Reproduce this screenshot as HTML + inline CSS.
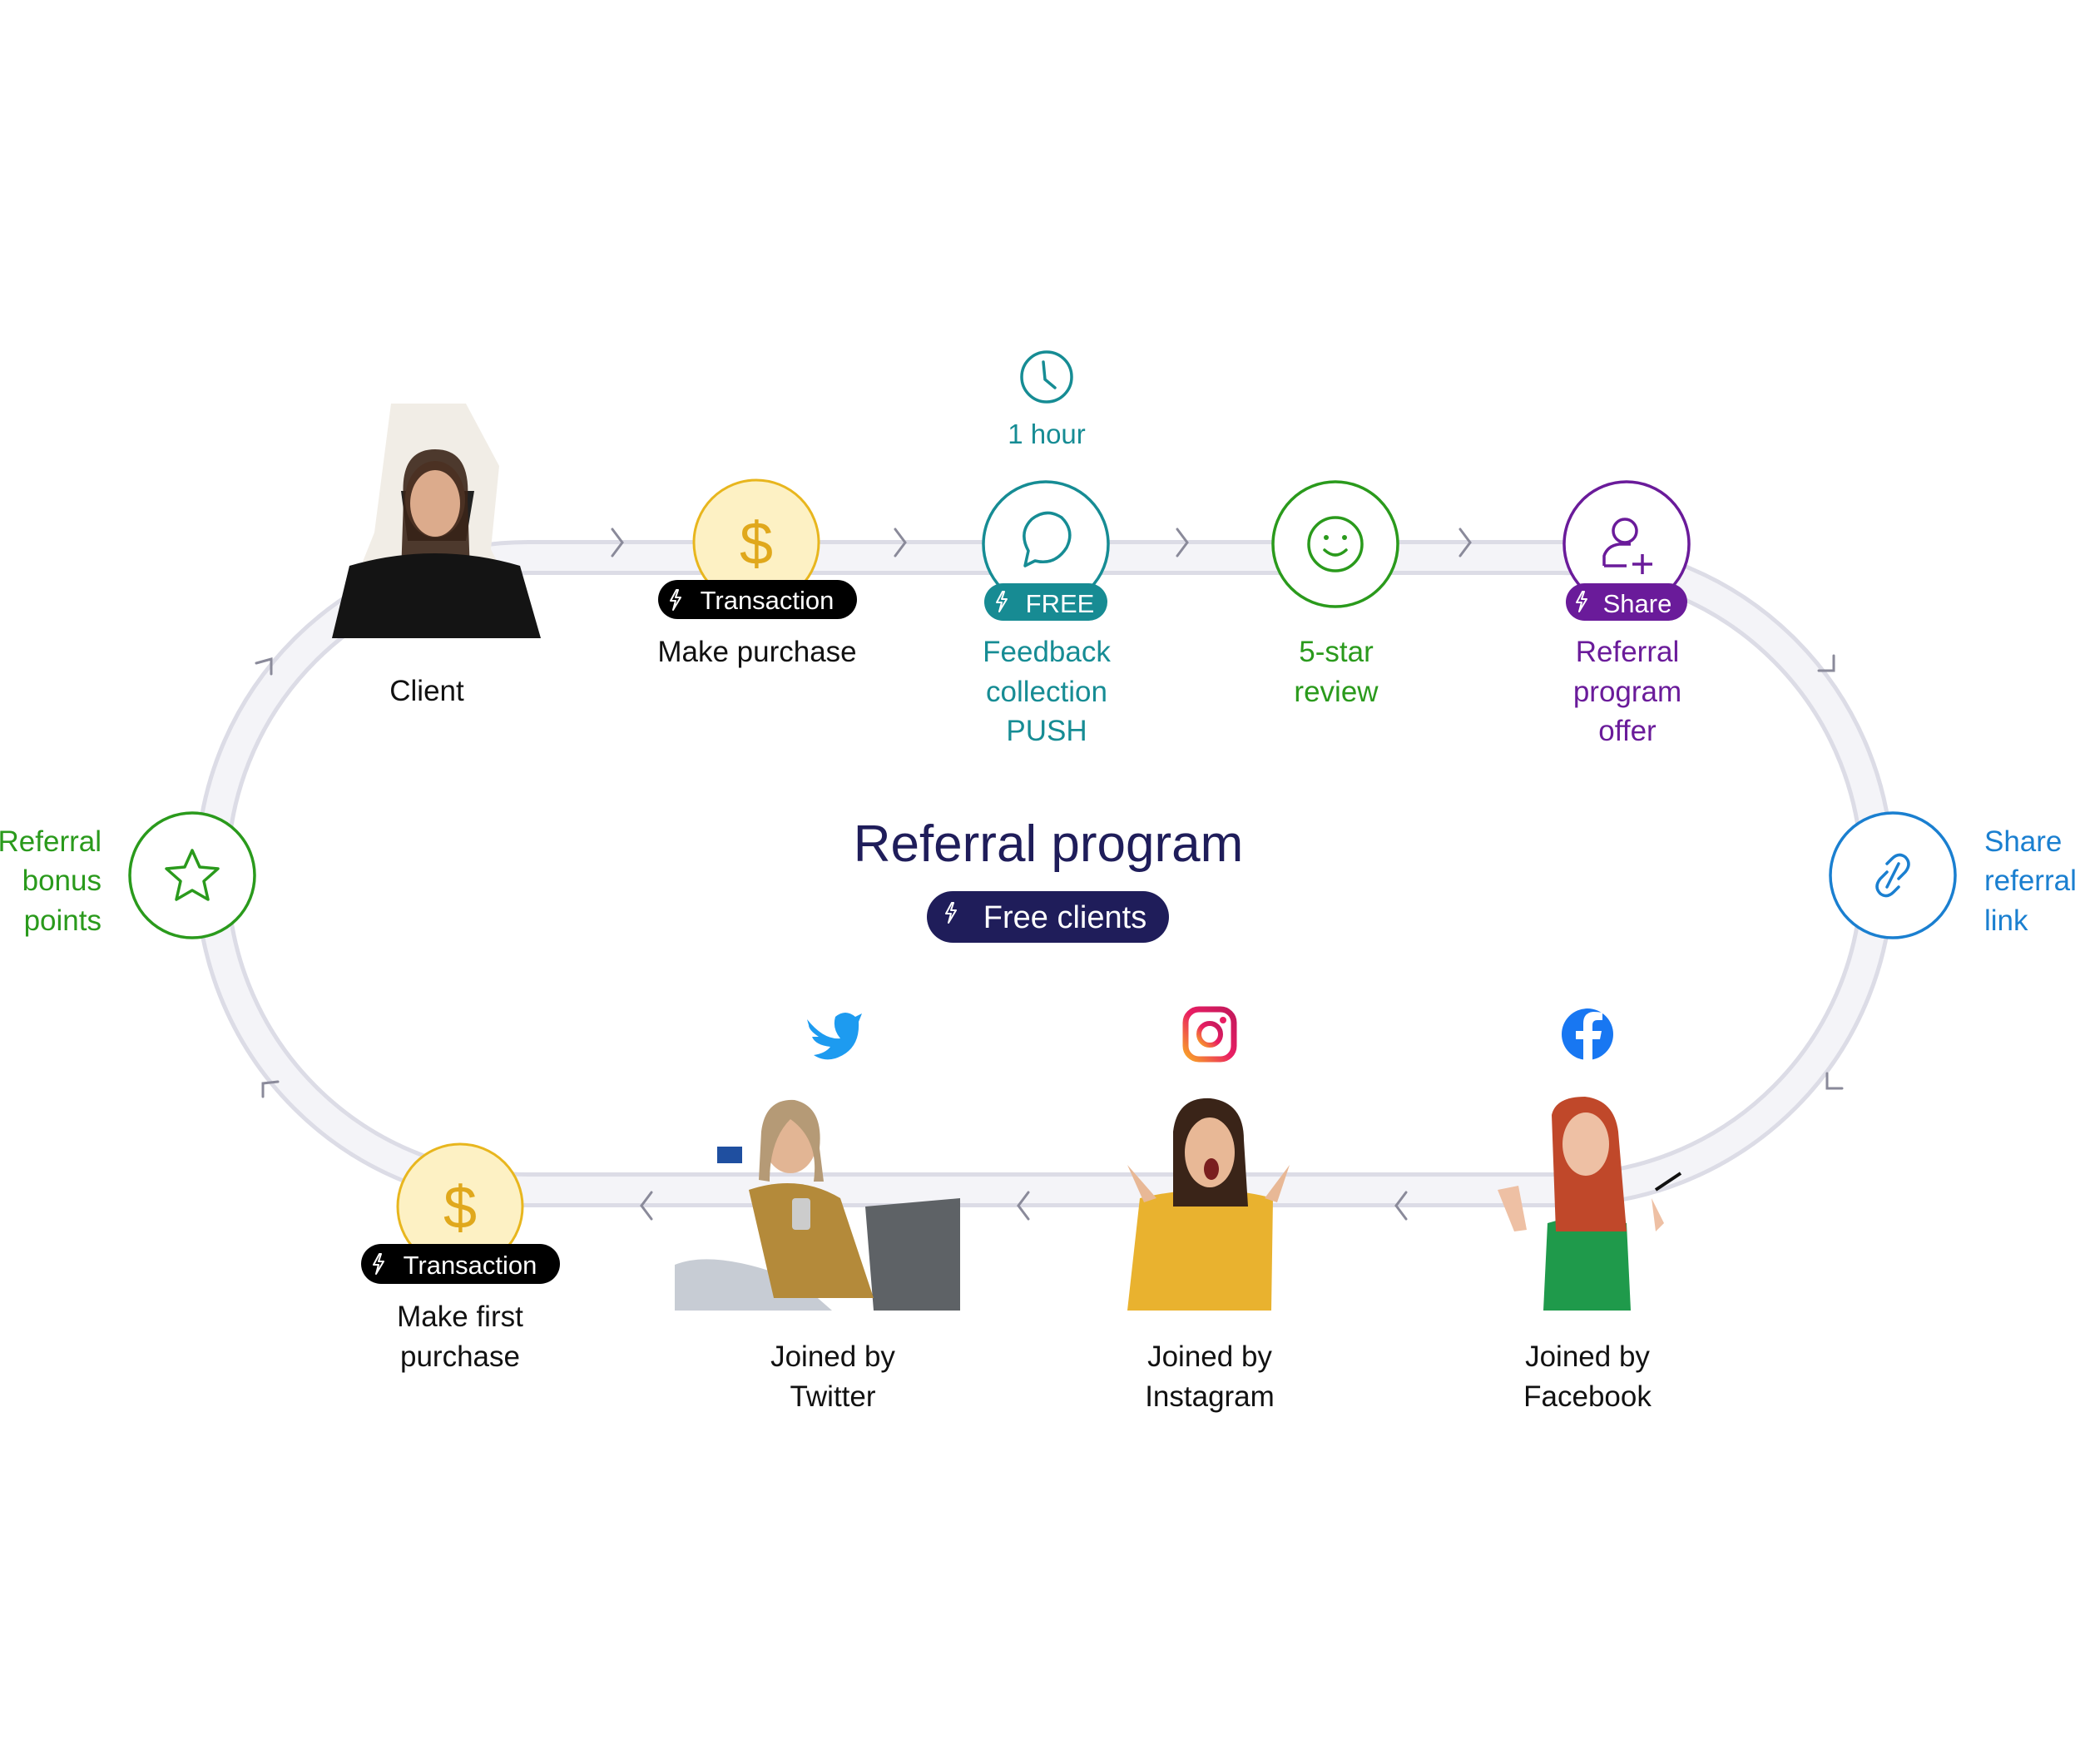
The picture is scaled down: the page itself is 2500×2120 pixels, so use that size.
<!DOCTYPE html>
<html><head><meta charset="utf-8"><style>
html,body{margin:0;padding:0;background:#fff}
svg{display:block}
text{font-family:"Liberation Sans",sans-serif}
</style></head><body>
<svg width="2500" height="2120" viewBox="0 0 2500 2120" xmlns="http://www.w3.org/2000/svg">
<defs>
<linearGradient id="ig" x1="0" y1="1" x2="1" y2="0"><stop offset="0" stop-color="#f9a825"/><stop offset="0.5" stop-color="#e91e63"/><stop offset="1" stop-color="#c2185b"/></linearGradient>
<g id="bolt"><path d="M7 0 L0 13 L6 13 L3 24 L12 9 L6 9 L9 0 Z" fill="none" stroke="#fff" stroke-width="2" stroke-linejoin="round"/></g>
</defs>
<rect x="255" y="670" width="2001" height="760" rx="380" fill="none" stroke="#dcdce6" stroke-width="42"/>
<rect x="255" y="670" width="2001" height="760" rx="380" fill="none" stroke="#f4f4f8" stroke-width="32"/>
<g fill="none" stroke="#8a8a9a" stroke-width="3" stroke-linecap="round">
<path d="M736 636 L748 652 L736 668"/><path d="M1076 636 L1088 652 L1076 668"/>
<path d="M1415 636 L1427 652 L1415 668"/><path d="M1755 636 L1767 652 L1755 668"/>
<path d="M783 1433 L771 1449 L783 1465"/><path d="M1236 1433 L1224 1449 L1236 1465"/>
<path d="M1690 1433 L1678 1449 L1690 1465"/>
<path d="M308 797 L326 792 L326 810"/><path d="M2186 806 L2204 806 L2204 788"/>
<path d="M2196 1290 L2196 1308 L2214 1308"/><path d="M316 1318 L316 1302 L334 1300"/>
</g>
<g>
<path d="M470 485 L560 485 L600 560 L590 660 L610 700 L650 767 L399 767 L430 690 L450 640 Z" fill="#f1ede6"/>
<path d="M482 590 L570 590 L560 650 L490 650 Z" fill="#222"/>
<ellipse cx="523" cy="600" rx="36" ry="46" fill="#d9a585"/>
<path d="M485 600 Q480 540 523 540 Q566 540 562 600 L565 690 L482 690 Z" fill="#3b2518" opacity="0.9"/>
<ellipse cx="523" cy="605" rx="30" ry="40" fill="#dcab8c"/>
<path d="M420 680 Q523 650 625 680 L650 767 L399 767 Z" fill="#141414"/>
</g>
<text x="513" y="842" font-size="35" text-anchor="middle" fill="#111">Client</text>
<circle cx="909" cy="652" r="75" fill="#fdf1c4" stroke="#e8b61e" stroke-width="3"/>
<text x="909" y="678" font-size="72" text-anchor="middle" fill="#e0a81c">$</text>
<rect x="791" y="697" width="239" height="47" rx="23.5" fill="#000"/>
<use href="#bolt" x="806" y="709"/>
<text x="922" y="732" font-size="31" text-anchor="middle" fill="#fff">Transaction</text>
<text x="910" y="795" font-size="35" text-anchor="middle" fill="#111">Make purchase</text>
<circle cx="1258" cy="453" r="30" fill="none" stroke="#168c94" stroke-width="3.5"/>
<path d="M1254 435 L1256 456 L1268 466" fill="none" stroke="#168c94" stroke-width="3.5" stroke-linecap="round"/>
<text x="1258" y="533" font-size="33" text-anchor="middle" fill="#168c94">1 hour</text>
<circle cx="1257" cy="654" r="75" fill="#fff" stroke="#168c94" stroke-width="3.5"/>
<path d="M1232 680 L1236 662 Q1224 640 1240 624 Q1258 610 1276 622 Q1292 638 1282 658 Q1268 680 1244 674 Z" fill="none" stroke="#168c94" stroke-width="3.5" stroke-linejoin="round"/>
<rect x="1183" y="701" width="148" height="45" rx="22.5" fill="#178b93"/>
<use href="#bolt" x="1198" y="711"/>
<text x="1274" y="736" font-size="31" text-anchor="middle" fill="#fff">FREE</text>
<g font-size="35" text-anchor="middle" fill="#168c94"><text x="1258" y="795">Feedback</text><text x="1258" y="843">collection</text><text x="1258" y="890">PUSH</text></g>
<circle cx="1605" cy="654" r="75" fill="#fff" stroke="#2a9a1c" stroke-width="3.5"/>
<circle cx="1605" cy="654" r="32" fill="none" stroke="#2a9a1c" stroke-width="3.5"/>
<circle cx="1594" cy="646" r="3" fill="#2a9a1c"/><circle cx="1616" cy="646" r="3" fill="#2a9a1c"/>
<path d="M1592 661 Q1605 673 1618 661" fill="none" stroke="#2a9a1c" stroke-width="3.5" stroke-linecap="round"/>
<g font-size="35" text-anchor="middle" fill="#2a9a1c"><text x="1606" y="795">5-star</text><text x="1606" y="843">review</text></g>
<circle cx="1955" cy="654" r="75" fill="#fff" stroke="#6a1b9a" stroke-width="3.5"/>
<circle cx="1953" cy="638" r="14" fill="none" stroke="#6a1b9a" stroke-width="3.5"/>
<path d="M1928 680 L1928 668 Q1932 656 1946 654 L1960 654" fill="none" stroke="#6a1b9a" stroke-width="3.5"/>
<path d="M1928 680 L1955 680 M1974 666 L1974 690 M1962 678 L1986 678" fill="none" stroke="#6a1b9a" stroke-width="3.5"/>
<rect x="1882" y="701" width="146" height="45" rx="22.5" fill="#6a1b9a"/>
<use href="#bolt" x="1895" y="711"/>
<text x="1968" y="736" font-size="31" text-anchor="middle" fill="#fff">Share</text>
<g font-size="35" text-anchor="middle" fill="#6a1b9a"><text x="1956" y="795">Referral</text><text x="1956" y="843">program</text><text x="1956" y="890">offer</text></g>
<circle cx="2275" cy="1052" r="75" fill="#fff" stroke="#1a7fd0" stroke-width="3.5"/>
<g fill="none" stroke="#1a7fd0" stroke-width="3.5" stroke-linecap="round">
<path d="M2268 1048 L2260 1056 Q2252 1066 2260 1074 Q2268 1080 2276 1072 L2282 1066"/>
<path d="M2282 1056 L2290 1048 Q2298 1038 2290 1030 Q2282 1024 2274 1032 L2268 1038"/>
<path d="M2268 1066 L2282 1038"/></g>
<g font-size="35" fill="#1a7fd0"><text x="2385" y="1023">Share</text><text x="2385" y="1070">referral</text><text x="2385" y="1118">link</text></g>
<circle cx="231" cy="1052" r="75" fill="#fff" stroke="#2a9a1c" stroke-width="3.5"/>
<path d="M231 1022 L240 1042 L262 1044 L245 1059 L250 1081 L231 1070 L212 1081 L217 1059 L200 1044 L222 1042 Z" fill="none" stroke="#2a9a1c" stroke-width="3.5" stroke-linejoin="round"/>
<g font-size="35" text-anchor="end" fill="#2a9a1c"><text x="122" y="1023">Referral</text><text x="122" y="1070">bonus</text><text x="122" y="1118">points</text></g>
<text x="1260" y="1035" font-size="62" text-anchor="middle" fill="#1f1d5a">Referral program</text>
<rect x="1114" y="1071" width="291" height="62" rx="31" fill="#1f1d5a"/>
<use href="#bolt" x="1142" y="1088" transform="translate(-5,-3)"/>
<text x="1280" y="1115" font-size="38" text-anchor="middle" fill="#fff">Free clients</text>
<circle cx="553" cy="1450" r="75" fill="#fdf1c4" stroke="#e8b61e" stroke-width="3"/>
<text x="553" y="1476" font-size="72" text-anchor="middle" fill="#e0a81c">$</text>
<rect x="434" y="1495" width="239" height="48" rx="24" fill="#000"/>
<use href="#bolt" x="449" y="1507"/>
<text x="565" y="1531" font-size="31" text-anchor="middle" fill="#fff">Transaction</text>
<g font-size="35" text-anchor="middle" fill="#111"><text x="553" y="1594">Make first</text><text x="553" y="1642">purchase</text></g>
<path d="M970 1225 Q990 1250 1010 1248 Q1000 1236 1004 1222 Q1016 1212 1028 1222 L1036 1218 L1032 1228 Q1034 1262 1004 1272 Q990 1276 978 1268 Q992 1266 998 1258 Q980 1256 976 1246 L984 1246 Q972 1238 972 1232 Z" fill="#1d9bf0"/>
<rect x="1425" y="1213" width="58" height="60" rx="16" fill="none" stroke="url(#ig)" stroke-width="7"/>
<circle cx="1454" cy="1243" r="13" fill="none" stroke="url(#ig)" stroke-width="6"/>
<circle cx="1470" cy="1226" r="4" fill="#e91e63"/>
<circle cx="1908" cy="1243" r="31" fill="#1877f2"/>
<path d="M1914 1274 L1914 1249 L1923 1249 L1925 1239 L1914 1239 L1914 1232 Q1914 1226 1920 1226 L1926 1226 L1926 1217 Q1920 1216 1915 1216 Q1903 1217 1903 1230 L1903 1239 L1894 1239 L1894 1249 L1903 1249 L1903 1274 Z" fill="#fff"/>
<g>
<path d="M1040 1450 L1154 1440 L1154 1575 L1050 1575 Z" fill="#5e6266"/>
<path d="M811 1520 Q860 1500 960 1540 L1000 1575 L811 1575 Z" fill="#c7ccd4"/>
<path d="M900 1430 Q960 1410 1010 1440 L1050 1560 L930 1560 Z" fill="#b48a3a"/>
<ellipse cx="950" cy="1370" rx="32" ry="40" fill="#e2b594"/>
<path d="M915 1360 Q920 1320 955 1322 Q990 1330 985 1380 L990 1420 L978 1420 Q985 1370 950 1345 Q925 1370 925 1420 L912 1418 Z" fill="#b59a76"/>
<rect x="862" y="1378" width="30" height="20" fill="#1f4fa0"/>
<rect x="952" y="1440" width="22" height="38" rx="4" fill="#ccc"/>
</g>
<g>
<path d="M1370 1440 Q1454 1420 1530 1440 L1528 1575 L1355 1575 Z" fill="#e9b22f"/>
<path d="M1410 1360 Q1415 1318 1455 1320 Q1495 1325 1495 1370 L1500 1450 L1410 1450 Z" fill="#3a2418"/>
<ellipse cx="1454" cy="1385" rx="30" ry="42" fill="#e8b896"/>
<ellipse cx="1456" cy="1405" rx="9" ry="13" fill="#7a1f1f"/>
<path d="M1355 1400 L1390 1440 L1375 1445 Z M1550 1400 L1520 1440 L1535 1445 Z" fill="#e8b896"/>
</g>
<g>
<path d="M1860 1470 Q1908 1455 1955 1470 L1960 1575 L1855 1575 Z" fill="#1f9a4b"/>
<path d="M1865 1340 Q1870 1318 1905 1318 Q1940 1322 1945 1360 L1955 1480 L1870 1480 Z" fill="#c0482a"/>
<ellipse cx="1906" cy="1375" rx="28" ry="38" fill="#eec0a4"/>
<path d="M1800 1430 L1820 1480 L1835 1478 L1825 1425 Z M1985 1440 L1990 1480 L2000 1470 Z" fill="#eec0a4"/>
<path d="M1990 1430 L2020 1410" stroke="#111" stroke-width="4"/>
</g>
<g font-size="35" text-anchor="middle" fill="#111">
<text x="1001" y="1642">Joined by</text><text x="1001" y="1690">Twitter</text>
<text x="1454" y="1642">Joined by</text><text x="1454" y="1690">Instagram</text>
<text x="1908" y="1642">Joined by</text><text x="1908" y="1690">Facebook</text>
</g>
</svg>
</body></html>
